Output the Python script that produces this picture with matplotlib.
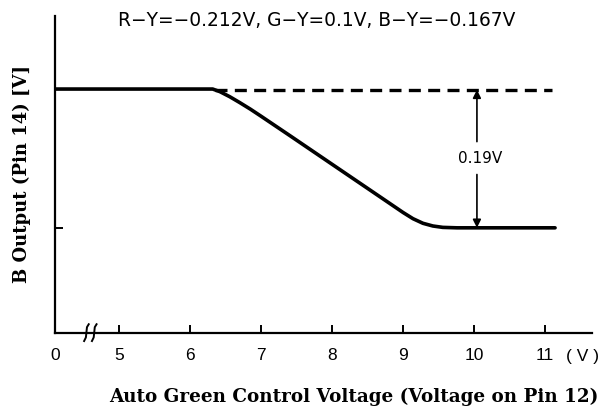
import matplotlib
matplotlib.use("Agg")
import matplotlib.pyplot as plt
import numpy as np

# data (volts on pin 12 -> relative B output, 0.19 V drop)
volts = [0, 5, 6.32, 6.42, 6.56, 6.70, 6.85, 6.99, 7.41, 8.04, 8.54, 8.82, 9.00,
         9.14, 9.28, 9.42, 9.56, 9.76, 11.14]
b_out = [0.19, 0.19, 0.19, 0.1865, 0.1795, 0.1715, 0.1625, 0.1535, 0.126, 0.0844,
         0.0514, 0.0329, 0.021, 0.0125, 0.0062, 0.0025, 0.0006, 0.0, 0.0]
ref_volts = [6.35, 11.1]
ref_level = [0.189, 0.189]
drop_at = 10.04
drop = 0.19
tick_volts = [0, 5, 6, 7, 8, 9, 10, 11]
tick_labels = ["0", "5", "6", "7", "8", "9", "10", "11"]

ZERO_POS = 4.10  # where 0 V sits on the broken axis


def pos(v):
    v = np.asarray(v, dtype=float)
    return np.where(v < 4.5, ZERO_POS + v * 0.0, v)


sans = ['Liberation Sans', 'DejaVu Sans']
serif = ['DejaVu Serif']

fig = plt.figure(figsize=(6.07, 4.10), dpi=100)
ax = fig.add_axes([55 / 607, 1 - 334 / 410, (592 - 55) / 607, (334 - 17) / 410])

ax.plot(pos(volts), b_out, color="black", lw=2.6, solid_capstyle="round",
        solid_joinstyle="round")
ax.plot(pos(ref_volts), ref_level, color="black", lw=2.4, dashes=(3.6, 2.2))

# 0.19V arrow
ax.annotate("", xy=(drop_at, 0.189), xytext=(drop_at, 0.118),
            arrowprops=dict(arrowstyle="-|>", color="black", lw=1.2,
                            mutation_scale=12, shrinkA=0, shrinkB=0))
ax.annotate("", xy=(drop_at, 0.0), xytext=(drop_at, 0.073),
            arrowprops=dict(arrowstyle="-|>", color="black", lw=1.2,
                            mutation_scale=12, shrinkA=0, shrinkB=0))
ax.text(drop_at + 0.04, 0.096, f"{drop}V", ha="center", va="center",
        fontsize=11, family=['DejaVu Sans'])

ax.set_xlim(ZERO_POS, 11.66)
ax.set_ylim(-0.144, 0.29)
ax.spines[["top", "right"]].set_visible(False)
ax.spines[["left", "bottom"]].set_linewidth(1.6)

ax.set_xticks(pos(tick_volts))
ax.set_xticklabels(tick_labels, family=sans, fontsize=12.5)
ax.set_yticks([0, 0.19])
ax.set_yticklabels([])
ax.tick_params(axis="both", direction="in", length=6, width=1.4)
ax.tick_params(axis="x", pad=10)
ax.xaxis.get_major_ticks()[0].tick1line.set_visible(False)

# axis break marks
for dx in (-0.055, 0.055):
    ax.plot([4.6 + dx - 0.035, 4.6 + dx - 0.01, 4.6 + dx + 0.005, 4.6 + dx + 0.03],
            [-0.155, -0.150, -0.136, -0.132], color="black",
            lw=1.4, clip_on=False, transform=ax.transData)

fig.text(582 / 607, 1 - 357 / 410, "( V )", ha="center", va="center",
         fontsize=12.5, family=sans)

fig.text(354 / 607, 1 - 397 / 410, "Auto Green Control Voltage (Voltage on Pin 12)",
         ha="center", va="center", family=serif, fontweight="bold", fontsize=13.2)
fig.text(22 / 607, 1 - 174 / 410, "B Output (Pin 14) [V]", rotation=90,
         ha="center", va="center", family=serif, fontweight="bold", fontsize=13)
fig.text(317 / 607, 1 - 21 / 410, "R\u2212Y=\u22120.212V, G\u2212Y=0.1V, B\u2212Y=\u22120.167V",
         ha="center", va="center", family=['DejaVu Sans'], fontsize=13.4)

fig.savefig("out.png", dpi=100)
